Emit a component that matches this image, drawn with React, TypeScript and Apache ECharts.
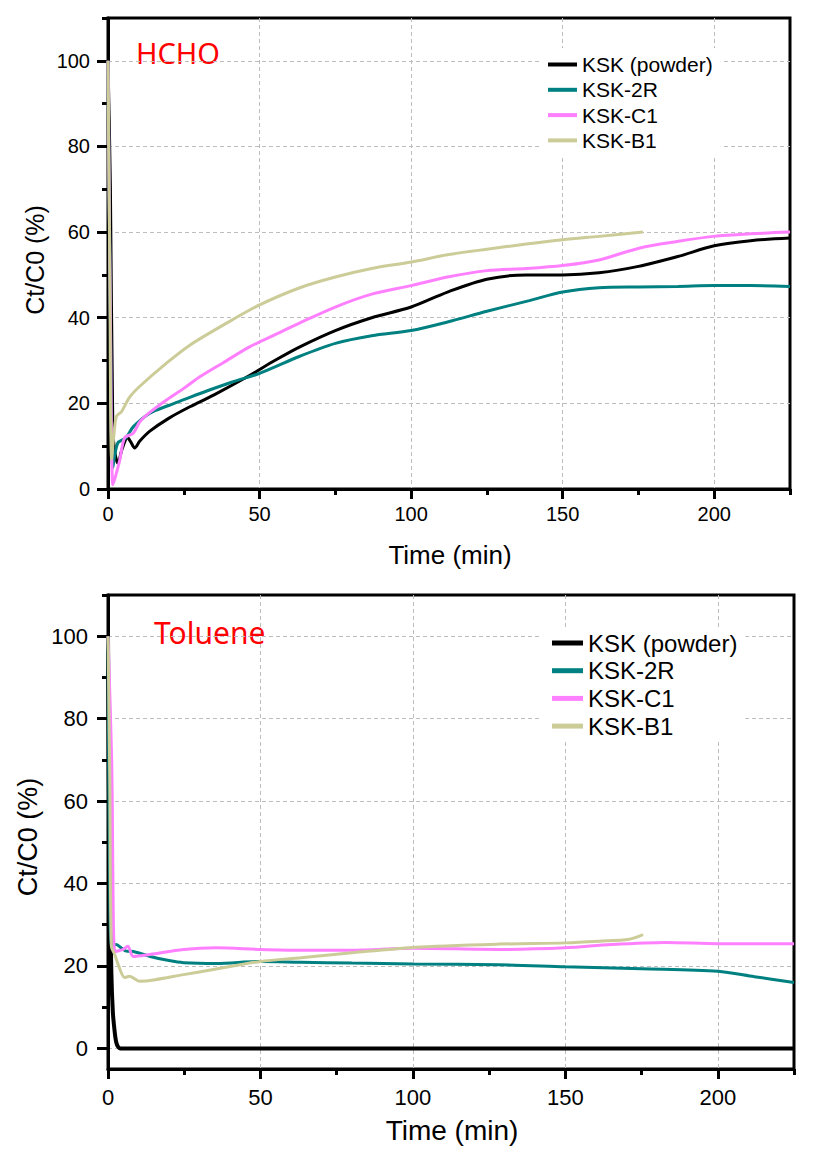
import React, { useEffect, useRef } from 'react';
import * as echarts from 'echarts';

// ---------- labels & ticks ----------
const seriesNames = ['KSK (powder)', 'KSK-2R', 'KSK-C1', 'KSK-B1'];
const seriesColors = ['#000000', '#008080', '#ff80ff', '#cccc99'];
const xMajorTicks = [0, 50, 100, 150, 200];
const xMinorTicks = [25, 75, 125, 175, 225];
const yMajorTicks = [0, 20, 40, 60, 80, 100];
const yMinorTicks = [10, 30, 50, 70, 90, 110];
const xTitle = 'Time (min)';
const yTitle = 'Ct/C0 (%)';
const topLabel = 'HCHO';
const bottomLabel = 'Toluene';

// ---------- HCHO ----------
const hchoPowderT = [0, 0.8, 1.6, 2.4, 3.3, 4.5, 6.5, 7.5, 8.8, 10.5, 13.8, 20, 27, 35, 46.7, 55, 63.3, 75, 87, 100, 112, 125, 138, 150, 162, 175, 188, 200, 212, 225];
const hchoPowderV = [100, 70, 14, 8, 6, 9, 12, 11, 9.6, 11.2, 13.5, 16.5, 19.2, 22, 26.5, 30, 33.2, 37, 40, 42.5, 46, 49, 50, 50, 50.5, 52, 54.3, 56.8, 58, 58.6];
const hcho2RT = [0, 0.8, 1.6, 3.2, 6, 8.3, 13.8, 20, 24.8, 33, 41, 50, 63.3, 75, 87, 100, 112, 125, 139, 150, 162, 175, 188, 200, 212, 225];
const hcho2RV = [100, 40, 5, 10.7, 12, 14.5, 17.7, 19.5, 20.8, 23, 25, 27, 31, 34, 35.8, 37, 39, 41.5, 44, 46, 47, 47.2, 47.3, 47.5, 47.5, 47.3];
const hchoC1T = [0, 0.8, 1.6, 2.5, 3.9, 5.5, 8.3, 10.5, 14, 19.3, 25, 30.3, 38, 46.7, 55, 63.3, 75, 87, 100, 112, 125, 138, 150, 162, 175.5, 187.7, 199.7, 212, 225];
const hchoC1V = [100, 40, 1, 3, 6.8, 12, 13, 15.7, 18, 20.8, 23.5, 26.2, 29.5, 33.2, 36, 38.8, 42.5, 45.5, 47.5, 49.5, 51, 51.5, 52.2, 53.5, 56.3, 57.8, 59, 59.6, 60];
const hchoB1T = [0, 0.6, 1.2, 2, 2.8, 4.4, 7.2, 10.5, 19.3, 27, 41, 50, 63.3, 75, 87, 100, 112, 125, 138, 150, 162, 176.5];
const hchoB1V = [100, 50, 7, 13, 17, 18, 21.5, 24, 29.4, 33.6, 39.5, 43, 47, 49.5, 51.5, 53, 54.7, 56, 57.2, 58.2, 59, 60];

// ---------- Toluene ----------
const tolPowderT = [0, 0.5, 1.1, 1.6, 2.2, 2.7, 3.3, 4, 10, 50, 100, 150, 200, 225];
const tolPowderV = [100, 45, 18.4, 8.7, 4, 1.5, 0.4, 0, 0, 0, 0, 0, 0, 0];
const tol2RT = [0, 0.5, 1.2, 2.7, 4.5, 6, 8.3, 13.8, 20, 24.8, 35.5, 50, 63.3, 80, 100, 128.5, 150, 175, 200, 212, 225];
const tol2RV = [100, 45, 25, 25.2, 24.3, 23.6, 23.5, 22.3, 21.3, 20.8, 20.6, 21.1, 20.9, 20.7, 20.5, 20.3, 19.8, 19.3, 18.7, 17.4, 16];
const tolC1T = [0, 1.2, 2.2, 3.5, 4.9, 6.5, 8.3, 13.8, 24.8, 35.5, 50, 63.3, 80, 100, 128.5, 150, 165, 183, 200, 225];
const tolC1V = [100, 70, 23.5, 23.7, 24, 24.8, 22.3, 22.8, 24, 24.4, 24, 23.8, 23.8, 24.3, 24, 24.4, 25.2, 25.7, 25.4, 25.4];
const tolB1T = [0, 0.6, 1.1, 2.2, 3.5, 5.5, 7.1, 8.5, 10.4, 15, 24.8, 35, 50, 63.3, 80, 100, 128.5, 150, 161, 171, 175.5];
const tolB1V = [100, 65, 24.8, 22.8, 20, 17.2, 17.5, 17, 16.3, 16.6, 17.9, 19.2, 21.1, 22, 23.2, 24.5, 25.3, 25.6, 26, 26.5, 27.6];

const hchoT = [hchoPowderT, hcho2RT, hchoC1T, hchoB1T];
const hchoV = [hchoPowderV, hcho2RV, hchoC1V, hchoB1V];
const tolT = [tolPowderT, tol2RT, tolC1T, tolB1T];
const tolV = [tolPowderV, tol2RV, tolC1V, tolB1V];

const FONT = '"Liberation Sans", Arial, sans-serif';

function zip(t: number[], v: number[]) {
  return t.map((x, i) => [x, v[i]]);
}

function mainX(gridIndex: number, fontSize: number, margin: number) {
  return {
    type: 'value', gridIndex, min: 0, max: 225, position: 'bottom',
    axisLine: { show: true, onZero: false, lineStyle: { color: '#000', width: 3 } },
    axisTick: { show: true, inside: false, length: 10, customValues: xMajorTicks, lineStyle: { color: '#000', width: 3 } },
    axisLabel: { show: true, customValues: xMajorTicks, color: '#000', fontSize, fontFamily: FONT, margin },
    splitLine: { show: true, lineStyle: { color: '#bdbdbd', width: 1, type: [4, 3] } },
  };
}
function minorX(gridIndex: number) {
  return {
    type: 'value', gridIndex, min: 0, max: 225, position: 'bottom',
    axisLine: { show: false, onZero: false },
    axisTick: { show: true, inside: false, length: 6, customValues: xMinorTicks, lineStyle: { color: '#000', width: 3 } },
    axisLabel: { show: false },
    splitLine: { show: false },
  };
}
function mainY(gridIndex: number, min: number, fontSize: number, margin: number) {
  return {
    type: 'value', gridIndex, min, max: 110, position: 'left',
    axisLine: { show: true, onZero: false, lineStyle: { color: '#000', width: 3 } },
    axisTick: { show: true, inside: false, length: 11, customValues: yMajorTicks, lineStyle: { color: '#000', width: 3 } },
    axisLabel: { show: true, customValues: yMajorTicks, color: '#000', fontSize, fontFamily: FONT, margin },
    splitLine: { show: true, lineStyle: { color: '#bdbdbd', width: 1, type: [4, 3] } },
  };
}
function minorY(gridIndex: number, min: number) {
  return {
    type: 'value', gridIndex, min, max: 110, position: 'left',
    axisLine: { show: false, onZero: false },
    axisTick: { show: true, inside: false, length: 6, customValues: yMinorTicks, lineStyle: { color: '#000', width: 3 } },
    axisLabel: { show: false },
    splitLine: { show: false },
  };
}

function legendFor(left: number, top: number, padding: number[], fontSize: number, itemWidth: number, itemHeight: number, itemGap: number) {
  return {
    show: true, orient: 'vertical', left, top, padding, backgroundColor: '#ffffff',
    icon: 'rect', itemWidth, itemHeight, itemGap,
    textStyle: { fontSize, lineHeight: fontSize, color: '#000', fontFamily: FONT },
    data: seriesNames,
  };
}

export default function App() {
  const ref = useRef<HTMLDivElement>(null);
  useEffect(() => {
    if (!ref.current) return;
    const chart = echarts.init(ref.current, undefined, { renderer: 'svg' });
    const series: any[] = [];
    seriesNames.forEach((name, i) => {
      series.push({
        type: 'line', name, xAxisIndex: 0, yAxisIndex: 0,
        data: zip(hchoT[i], hchoV[i]), showSymbol: false, symbol: 'none',
        smooth: 0.3, color: seriesColors[i],
        lineStyle: { color: seriesColors[i], width: 3 }, z: 2 + i,
      });
    });
    seriesNames.forEach((name, i) => {
      series.push({
        type: 'line', name, xAxisIndex: 2, yAxisIndex: 2,
        data: zip(tolT[i], tolV[i]), showSymbol: false, symbol: 'none',
        smooth: 0.3, color: seriesColors[i],
        lineStyle: { color: seriesColors[i], width: i === 0 ? 4 : 3 }, z: 2 + i,
      });
    });
    chart.setOption({
      animation: false,
      backgroundColor: '#ffffff',
      textStyle: { fontFamily: FONT },
      grid: [
        { left: 108, top: 18, width: 682, height: 471, show: true, borderColor: '#000', borderWidth: 3, backgroundColor: 'transparent' },
        { left: 108, top: 595, width: 686, height: 474, show: true, borderColor: '#000', borderWidth: 3, backgroundColor: 'transparent' },
      ],
      xAxis: [mainX(0, 20, 15), minorX(0), mainX(1, 22, 17), minorX(1)],
      yAxis: [mainY(0, 0, 20, 18), minorY(0, 0), mainY(1, -5, 22, 20), minorY(1, -5)],
      legend: [
        legendFor(540, 48, [6, 8, 6, 8], 21, 29, 4, 4.3),
        legendFor(542, 627, [4, 8, 4, 10], 24, 31, 5, 3.7),
      ],
      graphic: [
        { type: 'text', x: 136, y: 52, style: { text: topLabel, fill: '#ff0000', fontSize: 29, fontFamily: '"Noto Sans", "Open Sans", sans-serif', textAlign: 'left', textVerticalAlign: 'middle' } },
        { type: 'text', x: 154, y: 632, style: { text: bottomLabel, fill: '#ff0000', fontSize: 30, fontFamily: '"Noto Sans", "Open Sans", sans-serif', textAlign: 'left', textVerticalAlign: 'middle' } },
        { type: 'text', x: 450, y: 555, style: { text: xTitle, fill: '#000', fontSize: 26, fontFamily: FONT, textAlign: 'center', textVerticalAlign: 'middle' } },
        { type: 'text', x: 452, y: 1130, style: { text: xTitle, fill: '#000', fontSize: 28, fontFamily: FONT, textAlign: 'center', textVerticalAlign: 'middle' } },
        { type: 'text', x: 35, y: 260, rotation: Math.PI / 2, style: { text: yTitle, fill: '#000', fontSize: 25, fontFamily: FONT, textAlign: 'center', textVerticalAlign: 'middle' } },
        { type: 'text', x: 28, y: 837, rotation: Math.PI / 2, style: { text: yTitle, fill: '#000', fontSize: 27, fontFamily: FONT, textAlign: 'center', textVerticalAlign: 'middle' } },
      ],
      series,
    });
    return () => chart.dispose();
  }, []);
  return <div ref={ref} style={{ position: 'absolute', left: 0, top: 0, width: 826, height: 1154 }} />;
}
